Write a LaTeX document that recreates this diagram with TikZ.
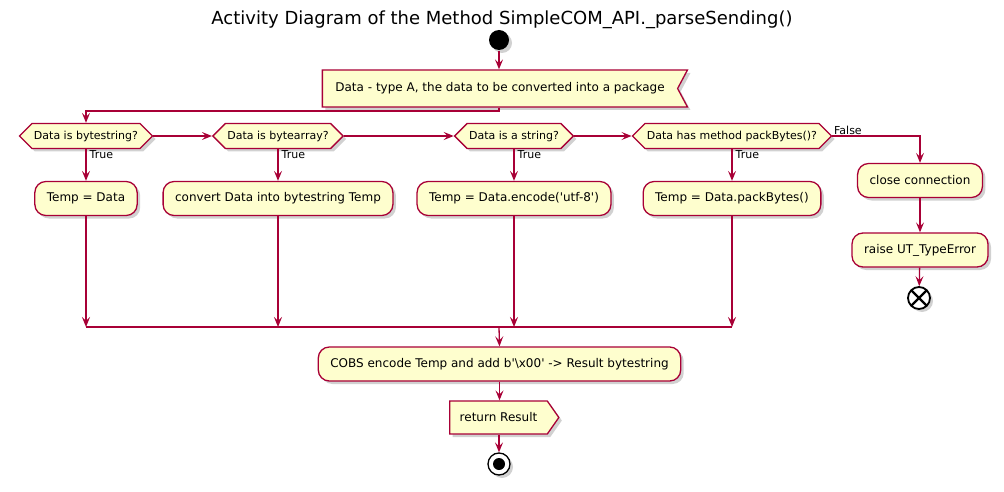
\documentclass[tikz,border=0pt]{standalone}
\usepackage{fontspec}
\setmainfont{DejaVu Sans}
\definecolor{umlRed}{HTML}{A80036}
\definecolor{umlFill}{HTML}{FEFECE}
\usepackage{tikz}
\usetikzlibrary{positioning,arrows.meta,shapes.symbols,shadows}

\begin{document}
\begin{tikzpicture}[x=1pt, y=-1pt, line width=1.3pt,
  shd/.style={drop shadow={shadow xshift=3pt, shadow yshift=-3pt, opacity=0.3, fill=black!60}},
  act/.style={draw=umlRed, fill=umlFill, rounded corners=11pt, minimum height=34pt, inner xsep=12pt, font=\fontsize{12}{14}\selectfont, shd},
  cond/.style={signal, signal to=west and east, signal pointer angle=90, draw=umlRed, fill=umlFill, minimum height=25pt, inner xsep=2pt, inner ysep=2pt, font=\fontsize{11}{13}\selectfont, shd},
  lbl/.style={font=\fontsize{11}{13}\selectfont, inner sep=1pt},
  arr/.style={draw=umlRed, -{Stealth[length=10pt, width=8pt, inset=4pt]}},
  ln/.style={draw=umlRed}]
\useasboundingbox (0,0) rectangle (1004,492);
\node[font=\fontsize{18}{21}\selectfont] (title) at (502,20) {Activity Diagram of the Method SimpleCOM\_API.\_parseSending()};
\node[circle, fill=black, minimum size=20pt, inner sep=0pt, shd] (start) at (499,40) {};
\node[signal, signal from=east, signal to=nowhere, signal pointer angle=124, draw=umlRed, fill=umlFill, minimum height=37pt, inner xsep=13pt, font=\fontsize{12}{14}\selectfont, shd] (inp) at (500,88.5) {Data - type A, the data to be converted into a package};
\coordinate (brk) at (499,111);
% type checks
\node[cond] (d1) at (86,136) {Data is bytestring?};
\node[cond] (d2) at (278,136) {Data is bytearray?};
\node[cond] (d3) at (514,136) {Data is a string?};
\node[cond] (d4) at (732,136) {Data has method packBytes()?};
\node[act] (a1) at (86,198.5) {Temp = Data};
\node[act] (a2) at (278,198.5) {convert Data into bytestring Temp};
\node[act] (a3) at (514,198.5) {Temp = Data.encode(\textquotesingle utf-8\textquotesingle)};
\node[act] (a4) at (732,198.5) {Temp = Data.packBytes()};
\node[act] (cc) at (920,180.5) {close connection};
\node[act] (rte) at (920,250) {raise UT\_TypeError};
\node[circle, draw=black, line width=1.8pt, fill=white, minimum size=22pt, inner sep=0pt, shd,
  path picture={\draw[black, line width=2.2pt] (path picture bounding box.south west) -- (path picture bounding box.north east)
    (path picture bounding box.north west) -- (path picture bounding box.south east);}] (endx) at (919,298) {};
\coordinate (mrg) at (499,327);
\node[act] (cobs) at (499.5,364) {COBS encode Temp and add b\textquotesingle\textbackslash x00\textquotesingle{} -> Result bytestring};
\node[signal, signal to=east, signal pointer angle=110, draw=umlRed, fill=umlFill, minimum height=33pt, inner xsep=10pt, font=\fontsize{12}{14}\selectfont, shd] (ret) at (498.5,417.5) {return Result};
\node[circle, draw=black, line width=1.3pt, fill=white, minimum size=22pt, inner sep=0pt, shd,
  path picture={\fill[black] (path picture bounding box.center) circle (6pt);}] (stop) at (499,464) {};
% flow
\draw[arr] (start) -- (start |- inp.north);
\draw[arr] (inp.south -| brk) -- (brk) -| (d1.north);
\draw[arr] (d1.east) -- (d2.west);
\draw[arr] (d2.east) -- (d3.west);
\draw[arr] (d3.east) -- (d4.west);
\draw[arr] (d4.east) -| (cc.north) node[pos=0, anchor=south west, lbl] {False};
\foreach \c/\a in {d1/a1, d2/a2, d3/a3, d4/a4} {
  \draw[arr] (\c.south) -- (\a.north) node[pos=0, anchor=north west, lbl, xshift=2pt] {True};
  \draw[arr] (\a.south) -- (\a.south |- mrg);
}
\draw[ln] (a1.south |- mrg) -- (a4.south |- mrg);
\draw[arr] (mrg) -- (cobs.north);
\draw[arr] (cobs.south) -- (cobs.south |- ret.north);
\draw[arr] (ret.south -| stop) -- (stop.north);
\draw[arr] (cc) -- (rte);
\draw[arr] (rte) -- (endx);
\end{tikzpicture}
\end{document}
